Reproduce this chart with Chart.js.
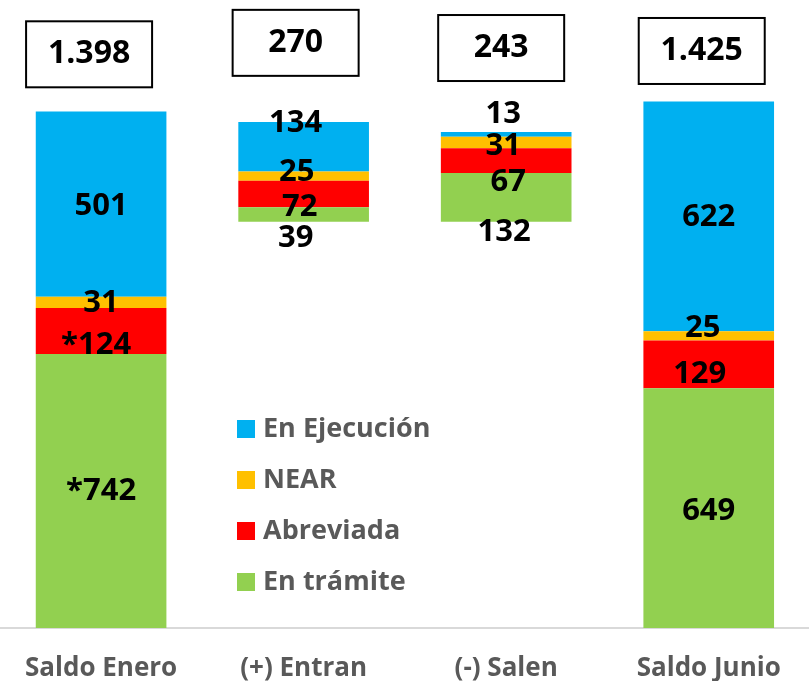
<!DOCTYPE html>
<html>
<head>
<meta charset="utf-8">
<script src="https://cdn.jsdelivr.net/npm/chart.js@4"></script>
<style>
  body { margin: 0; background: #fff; overflow: hidden; }
  #wrap { position: absolute; left: -3px; top: 0; width: 813px; height: 681px; }
</style>
</head>
<body>
<div id="wrap"><canvas id="chart"></canvas></div>
<script>
/* ---------------------------- Data --------------------------------------------- */

const categories = ['Saldo Enero', '(+) Entran', '(-) Salen', 'Saldo Junio']
const hiddenBase = [0, 1100, 1100, 0]
const enTramite = [742, 39, 132, 649]
const abreviada = [124, 72, 67, 129]
const near = [31, 25, 31, 25]
const enEjecucion = [501, 134, 13, 622]
const tramitePrefix = ['*', '', '', '']
const abreviadaPrefix = ['*', '', '', '']

/* ---------------------------- Look --------------------------------------------- */

const FONT = "'Open Sans', sans-serif"
const colors = { tramite: '#92D050', abreviada: '#FF0000', near: '#FFC000', ejecucion: '#00B0F0' }

// label nudges [dx, dy] per category, from the segment centre
const nudges = {
    tramite: [[0, 0], [-8, 24], [-2, 35], [0, 3]],
    abreviada: [[-5, 14], [-4, 13], [2, 22], [-9, 10]],
    near: [[0, 1], [-7, -4], [-3, 4], [-6, -8]],
    ejecucion: [[0, 2], [-8, -23], [-3, -20], [0, 1]]
}
const boxDx = [-12, -8, -5, -7]
const boxLevel = [1553, 1584, 1570, 1562]

const fmt = n => String(n).replace(/\B(?=(\d{3})+(?!\d))/g, '.')

const totals = categories.map((c, i) => enTramite[i] + abreviada[i] + near[i] + enEjecucion[i])

/* ---------------------------- Plugins --------------------------------------------- */

const segmentLabels = {
    id: 'segmentLabels',
    afterDatasetsDraw(chart) {
        const ctx = chart.ctx
        ctx.save()
        ctx.font = `bold 31px ${FONT}`
        ctx.fillStyle = '#000'
        ctx.textAlign = 'center'
        ctx.textBaseline = 'middle'
        chart.data.datasets.forEach((ds, di) => {
            if (!ds.key) return
            const meta = chart.getDatasetMeta(di)
            meta.data.forEach((bar, i) => {
                const n = nudges[ds.key][i]
                const cy = (bar.y + bar.base) / 2
                const txt = (ds.prefix ? ds.prefix[i] : '') + ds.data[i]
                ctx.fillText(txt, bar.x + n[0], cy + n[1])
            })
        })
        ctx.restore()
    }
}

const totalBoxes = {
    id: 'totalBoxes',
    afterDatasetsDraw(chart) {
        const ctx = chart.ctx
        const xs = chart.scales.x, ys = chart.scales.y
        ctx.save()
        totals.forEach((t, i) => {
            const cx = xs.getPixelForValue(i) + boxDx[i]
            const cy = ys.getPixelForValue(boxLevel[i])
            ctx.fillStyle = '#fff'
            ctx.fillRect(cx - 63, cy - 33, 126, 66)
            ctx.strokeStyle = '#000'
            ctx.lineWidth = 2
            ctx.strokeRect(cx - 63, cy - 33, 126, 66)
            ctx.fillStyle = '#000'
            ctx.font = `bold 32px ${FONT}`
            ctx.textAlign = 'center'
            ctx.textBaseline = 'middle'
            ctx.fillText(fmt(t), cx, cy)
        })
        ctx.restore()
    }
}

const insideLegend = {
    id: 'insideLegend',
    afterDraw(chart) {
        const ctx = chart.ctx
        const items = [
            ['En Ejecución', colors.ejecucion],
            ['NEAR', colors.near],
            ['Abreviada', colors.abreviada],
            ['En trámite', colors.tramite]
        ]
        ctx.save()
        ctx.font = `bold 27px ${FONT}`
        ctx.textBaseline = 'middle'
        items.forEach((it, k) => {
            const y = 429 + k * 51
            ctx.fillStyle = it[1]
            ctx.fillRect(240, y - 9, 18, 18)
            ctx.fillStyle = '#595959'
            ctx.fillText(it[0], 266, y)
        })
        ctx.restore()
    }
}

/* ---------------------------- Chart --------------------------------------------- */

const ctx = document.getElementById('chart')
new Chart(ctx, {
    type: 'bar',
    data: {
        labels: categories,
        datasets: [
            { data: hiddenBase, backgroundColor: 'rgba(0,0,0,0)' },
            { key: 'tramite', label: 'En trámite', data: enTramite, prefix: tramitePrefix, backgroundColor: colors.tramite },
            { key: 'abreviada', label: 'Abreviada', data: abreviada, prefix: abreviadaPrefix, backgroundColor: colors.abreviada },
            { key: 'near', label: 'NEAR', data: near, backgroundColor: colors.near },
            { key: 'ejecucion', label: 'En Ejecución', data: enEjecucion, backgroundColor: colors.ejecucion }
        ]
    },
    options: {
        responsive: true,
        maintainAspectRatio: false,
        animation: false,
        layout: { padding: { top: 0, left: 0, right: 0, bottom: -29 } },
        datasets: { bar: { categoryPercentage: 1, barPercentage: 0.645 } },
        plugins: { legend: { display: false }, tooltip: { enabled: false } },
        scales: {
            x: {
                stacked: true,
                grid: { display: false, drawTicks: false },
                border: { display: true, color: '#D9D9D9', width: 2 },
                ticks: {
                    color: '#595959',
                    padding: 28,
                    font: { family: FONT, size: 26, weight: 'bold', lineHeight: 1 }
                }
            },
            y: { stacked: true, display: false, min: 0, max: 1700 }
        }
    },
    plugins: [segmentLabels, totalBoxes, insideLegend]
})
</script>
</body>
</html>
